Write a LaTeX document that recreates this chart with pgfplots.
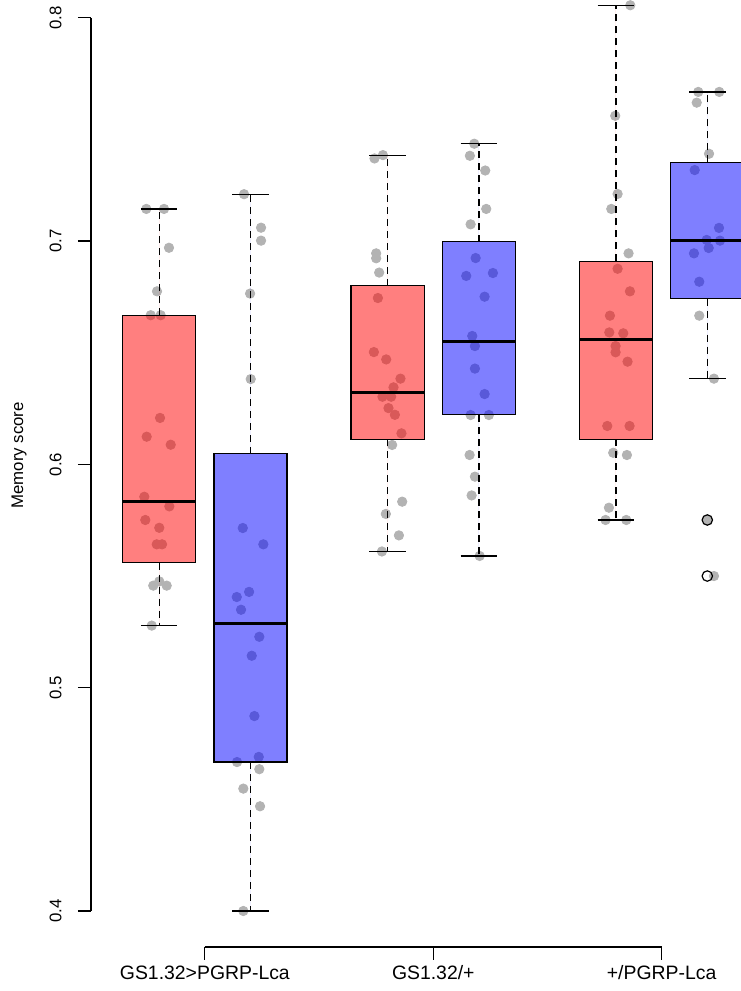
\documentclass[border=0pt]{standalone}
\usepackage{fontspec}
\setmainfont{Liberation Sans}
\usepackage{pgfplots}
\pgfplotsset{compat=1.18}
\usepgfplotslibrary{statistics}
\definecolor{ptgray}{RGB}{179,179,179}
\pgfplotsset{
  jit/.style={only marks, mark=*, mark size=2.35pt, color=ptgray, mark options={draw=ptgray, fill=ptgray, line width=0.4pt}},
  rbox/.style={draw=black, fill=red, fill opacity=0.5, line width=0.6pt,
     boxplot/draw direction=y,
     boxplot/every whisker/.style={dash pattern=on 3.5pt off 2.5pt},
     boxplot/every median/.style={line width=1.7pt}},
  bbox/.style={draw=black, fill=blue, fill opacity=0.5, line width=0.6pt,
     boxplot/draw direction=y,
     boxplot/every whisker/.style={dash pattern=on 3.5pt off 2.5pt},
     boxplot/every median/.style={line width=1.7pt}},
  cap/.style={black, line width=0.6pt, no markers},
}
\begin{document}
\begin{tikzpicture}[x=1pt,y=1pt]
\useasboundingbox (0,0) rectangle (370,495.5);
\begin{axis}[at={(0,0)}, anchor=south west, scale only axis,
  width=370pt, height=495.5pt,
  xmin=-0.7427, xmax=7.358, ymin=0.36417, ymax=0.80797,
  hide axis, clip=false, clip marker paths=true,
  font=\fontsize{8.4pt}{10pt}\selectfont]
% jittered points
\addplot[jit] coordinates {
(0.859,0.7144)(1.053,0.7144)(1.107,0.697)(0.976,0.6775)(0.907,0.6668)(1.016,0.6668)
(1.009,0.6208)(0.863,0.6124)(1.126,0.6088)(0.837,0.5855)(1.111,0.5812)(0.848,0.5751)
(1.001,0.5716)(0.973,0.5642)(1.031,0.5642)(0.935,0.5457)(1.001,0.5476)(1.082,0.5457)(0.918,0.5278)};
\addplot[jit] coordinates {
(1.929,0.721)(2.115,0.706)(2.115,0.7002)(1.995,0.6765)(2.002,0.6382)(1.915,0.5715)
(2.140,0.5642)(1.984,0.5429)(1.849,0.5406)(1.896,0.5349)(2.096,0.5228)(2.013,0.5143)
(2.042,0.4873)(2.090,0.469)(1.852,0.4667)(2.096,0.4635)(1.921,0.4548)(2.104,0.4469)(1.921,0.4)};
\addplot[jit] coordinates {
(3.357,0.737)(3.449,0.7385)(3.375,0.6945)(3.375,0.6923)(3.408,0.6859)(3.394,0.6745)
(3.350,0.6503)(3.485,0.647)(3.641,0.6384)(3.565,0.6345)(3.444,0.6303)(3.539,0.6303)
(3.510,0.6252)(3.580,0.6222)(3.652,0.6139)(3.550,0.6087)(3.660,0.5833)(3.481,0.5778)
(3.624,0.5682)(3.438,0.561)};
\addplot[jit] coordinates {
(4.449,0.7436)(4.401,0.7382)(4.569,0.7316)(4.580,0.7144)(4.409,0.7075)(4.464,0.6924)
(4.361,0.6844)(4.653,0.6857)(4.562,0.6751)(4.427,0.6575)(4.456,0.653)(4.456,0.6429)
(4.562,0.6315)(4.409,0.6221)(4.609,0.6221)(4.398,0.6042)(4.456,0.5945)(4.420,0.5861)(4.508,0.559)};
\addplot[jit] coordinates {
(6.157,0.8056)(5.992,0.7561)(6.018,0.7211)(5.949,0.7144)(6.138,0.6945)(6.018,0.6876)
(6.153,0.6775)(5.934,0.6666)(5.927,0.6591)(6.080,0.6587)(5.996,0.653)(5.996,0.6502)
(6.127,0.646)(5.905,0.6172)(6.149,0.6172)(5.970,0.6052)(6.120,0.6042)(5.923,0.5806)
(5.886,0.5751)(6.113,0.5751)};
\addplot[jit] coordinates {
(6.901,0.7668)(7.131,0.7668)(6.884,0.762)(7.019,0.7391)(6.862,0.7318)(7.128,0.7059)
(6.993,0.7005)(7.139,0.7002)(7.015,0.6969)(6.854,0.6945)(6.912,0.6818)(6.912,0.6666)
(7.073,0.6384)(7.0,0.5751)(7.073,0.55)};
% boxes
\addplot[rbox, boxplot prepared={draw position=1, lower whisker=0.5278, lower quartile=0.556, median=0.5835, upper quartile=0.6668, upper whisker=0.7144, box extend=0.8, whisker extend=0}] coordinates {};
\addplot[bbox, boxplot prepared={draw position=2, lower whisker=0.4, lower quartile=0.4667, median=0.5288, upper quartile=0.6048, upper whisker=0.721, box extend=0.8, whisker extend=0}] coordinates {};
\addplot[rbox, boxplot prepared={draw position=3.5, lower whisker=0.5609, lower quartile=0.6112, median=0.6323, upper quartile=0.68, upper whisker=0.7382, box extend=0.8, whisker extend=0}] coordinates {};
\addplot[bbox, boxplot prepared={draw position=4.5, lower whisker=0.559, lower quartile=0.6222, median=0.6551, upper quartile=0.6997, upper whisker=0.7436, box extend=0.8, whisker extend=0}] coordinates {};
\addplot[rbox, boxplot prepared={draw position=6, lower whisker=0.5751, lower quartile=0.6112, median=0.6558, upper quartile=0.691, upper whisker=0.8056, box extend=0.8, whisker extend=0}] coordinates {};
\addplot[bbox, boxplot prepared={draw position=7, lower whisker=0.6384, lower quartile=0.6742, median=0.7002, upper quartile=0.7353, upper whisker=0.7668, box extend=0.8, whisker extend=0}] coordinates {};
% whisker caps
\addplot[cap] coordinates {(0.8,0.7144)(1.2,0.7144)};
\addplot[cap] coordinates {(0.8,0.5278)(1.2,0.5278)};
\addplot[cap] coordinates {(1.8,0.721)(2.2,0.721)};
\addplot[cap] coordinates {(1.8,0.4)(2.2,0.4)};
\addplot[cap] coordinates {(3.3,0.7382)(3.7,0.7382)};
\addplot[cap] coordinates {(3.3,0.5609)(3.7,0.5609)};
\addplot[cap] coordinates {(4.3,0.7436)(4.7,0.7436)};
\addplot[cap] coordinates {(4.3,0.559)(4.7,0.559)};
\addplot[cap] coordinates {(5.8,0.8056)(6.2,0.8056)};
\addplot[cap] coordinates {(5.8,0.5751)(6.2,0.5751)};
\addplot[cap] coordinates {(6.8,0.7668)(7.2,0.7668)};
\addplot[cap] coordinates {(6.8,0.6384)(7.2,0.6384)};
% outliers
\addplot[only marks, mark=o, mark size=2.6pt, mark options={draw=black, line width=0.6pt, fill=none}] coordinates {(7,0.5751)(7,0.55)};
% y axis
\draw[line width=0.6pt] (axis cs:0.2534,0.4) -- (axis cs:0.2534,0.8);
\pgfplotsinvokeforeach{0.4,0.5,0.6,0.7,0.8}{
  \draw[line width=0.6pt] (axis cs:0.1111,#1) -- (axis cs:0.2534,#1);
  \node[rotate=90, inner sep=0pt] at (axis cs:-0.1352,#1) {#1};
}
\node[rotate=90, inner sep=0pt] at (axis cs:-0.5348,0.604) {Memory score};
% x axis
\draw[line width=0.6pt] (axis cs:1.5,0.38388) -- (axis cs:6.5,0.38388);
\pgfplotsinvokeforeach{1.5,4,6.5}{
  \draw[line width=0.6pt] (axis cs:#1,0.38388) -- (axis cs:#1,0.37806);
}
\node[inner sep=0pt, font=\fontsize{9.7pt}{11pt}\selectfont] at (axis cs:1.5,0.37223) {GS1.32>PGRP-Lca};
\node[inner sep=0pt, font=\fontsize{9.7pt}{11pt}\selectfont] at (axis cs:4,0.37223) {GS1.32/+};
\node[inner sep=0pt, font=\fontsize{9.7pt}{11pt}\selectfont] at (axis cs:6.5,0.37223) {+/PGRP-Lca};
\end{axis}
\end{tikzpicture}
\end{document}
